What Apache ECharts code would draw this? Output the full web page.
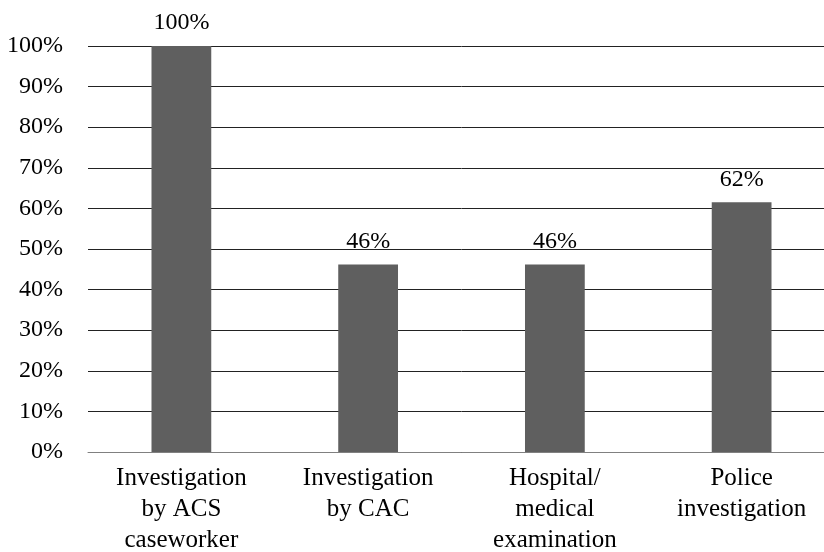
<!DOCTYPE html>
<html><head><meta charset="utf-8">
<script src="https://cdn.jsdelivr.net/npm/echarts@6/dist/echarts.min.js"></script>
<style>html,body{margin:0;padding:0;background:#fff;overflow:hidden;width:824px;height:552px}
#wrap{position:relative;width:824px;height:552px;overflow:hidden}
#c{position:absolute;left:0;top:0;width:835px;height:552px}</style>
</head><body><div id="wrap"><div id="c"></div></div>
<script>
const categories = ["Investigation\nby ACS\ncaseworker", "Investigation\nby CAC", "Hospital/\nmedical\nexamination", "Police\ninvestigation"];
const values = [100, 46.2, 46.2, 61.5];
const yTicks = [0, 10, 20, 30, 40, 50, 60, 70, 80, 90, 100];
const font = "'Liberation Serif', 'Times New Roman', serif";
const chart = echarts.init(document.getElementById('c'));
chart.setOption({
  animation: false,
  grid: {left: 88, right: 0, top: 46, bottom: 100, containLabel: false, outerBoundsMode: 'none'},
  xAxis: {
    type: 'category', data: categories,
    axisLine: {show: true, lineStyle: {color: '#808080', width: 1}},
    axisTick: {show: false},
    axisLabel: {color: '#000', fontFamily: font, fontSize: 25, lineHeight: 31, margin: 11, interval: 0}
  },
  yAxis: {
    type: 'value', min: 0, max: 100, interval: 10,
    axisLine: {show: false}, axisTick: {show: false},
    splitLine: {lineStyle: {color: '#222', width: 1}},
    axisLabel: {color: '#000', fontFamily: font, fontSize: 24, margin: 25,
      formatter: v => yTicks.includes(v) ? v + '%' : ''}
  },
  series: [{
    type: 'bar', data: values, barWidth: '32%',
    itemStyle: {color: '#5f5f5f'},
    label: {show: true, position: 'top', distance: 11, color: '#000', fontFamily: font, fontSize: 24,
      formatter: p => Math.round(p.value) + '%'}
  }]
});
</script></body></html>
